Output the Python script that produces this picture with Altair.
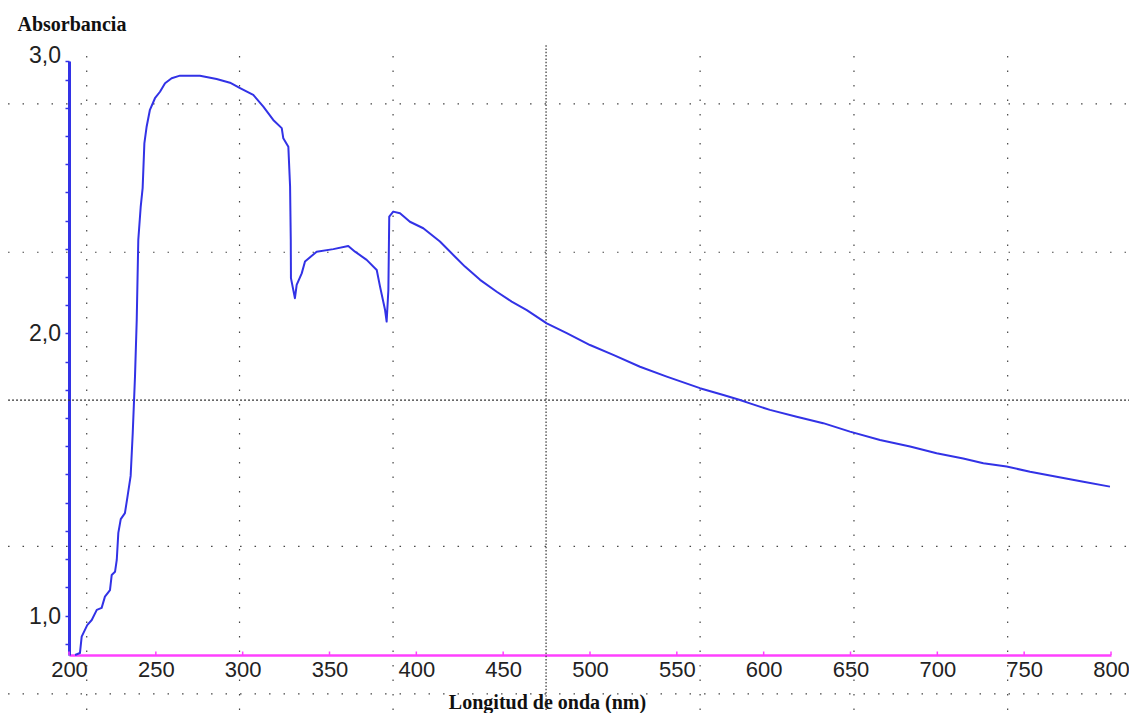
import altair as alt
import pandas as pd

# ---- data ----
wavelength = [203.5, 206.3, 207.3, 210.5, 213.1, 216.0, 218.8, 220.7, 223.6, 224.6,
              226.5, 227.5, 228.4, 229.8, 232.2, 233.6, 235.5, 236.7, 238.0, 239.0,
              239.9, 241.3, 242.4, 243.4, 244.7, 246.6, 249.5, 252.4, 255.3, 259.1,
              263.9, 275.4, 285.0, 292.7, 298.5, 306.1, 311.9, 317.6, 322.5, 323.4,
              326.3, 327.3, 327.7, 327.8, 330.1, 331.1, 334.0, 335.9, 342.6, 352.2,
              360.8, 364.7, 371.4, 377.2, 379.1, 382.0, 382.9, 383.9, 384.4, 386.7,
              390.6, 396.3, 404.0, 413.6, 422.3, 428.0, 436.7, 446.3, 454.9, 463.6,
              475.1, 486.6, 500.0, 513.4, 528.8, 544.2, 563.3, 576.8, 586.4, 592.1,
              603.6, 619.0, 634.3, 649.7, 667.0, 684.3, 699.6, 714.9, 726.5, 739.9,
              753.4, 768.7, 784.1, 799.4]
absorbance = [0.860, 0.867, 0.925, 0.966, 0.984, 1.020, 1.027, 1.067, 1.090, 1.144,
              1.155, 1.197, 1.293, 1.342, 1.363, 1.418, 1.495, 1.647, 1.847, 2.048,
              2.332, 2.450, 2.515, 2.674, 2.733, 2.793, 2.834, 2.857, 2.887, 2.905,
              2.914, 2.914, 2.902, 2.889, 2.870, 2.846, 2.804, 2.757, 2.728, 2.692,
              2.662, 2.521, 2.332, 2.196, 2.125, 2.172, 2.213, 2.255, 2.290, 2.299,
              2.310, 2.290, 2.261, 2.225, 2.166, 2.083, 2.042, 2.154, 2.414, 2.432,
              2.426, 2.396, 2.373, 2.326, 2.272, 2.237, 2.190, 2.148, 2.113, 2.083,
              2.036, 2.001, 1.959, 1.924, 1.882, 1.847, 1.806, 1.782, 1.764, 1.752,
              1.729, 1.705, 1.682, 1.652, 1.622, 1.599, 1.575, 1.557, 1.540, 1.528,
              1.510, 1.492, 1.474, 1.457]

x_ticks = [200, 250, 300, 350, 400, 450, 500, 550, 600, 650, 700, 750, 800]
y_ticks = [0.9, 1.0, 1.1, 1.2, 1.3, 1.4, 1.5, 1.6, 1.7, 1.8, 1.9, 2.0,
           2.1, 2.2, 2.3, 2.4, 2.5, 2.6, 2.7, 2.8, 2.9, 2.966]
y_labelled = [1.0, 2.0, 2.966]

x_domain = [200, 800]
y_domain = [0.86, 2.966]

# instrument grid (independent of the tick scale)
grid_x_sparse = [210.2, 298.2, 386.6, 563.4, 652.0, 740.5]
grid_x_dark = [474.7]
grid_y_sparse = [2.814, 2.288, 1.245, 0.722]
grid_y_dark = [1.764]
grid_x_extent = [164.9, 810.4]
grid_y_extent = [0.665, 3.023]

BLUE = "#3232e6"
MAGENTA = "#ff40ff"

spec = pd.DataFrame({"wl": wavelength, "abs": absorbance,
                     "idx": list(range(len(wavelength)))})

xs = alt.Scale(domain=x_domain, nice=False, zero=False)
ys = alt.Scale(domain=y_domain, nice=False, zero=False)

x_axis = alt.Axis(values=x_ticks, format="d", grid=False, ticks=False,
                  domainColor=MAGENTA, domainWidth=2.5,
                  labelFont="Liberation Sans", labelFontSize=22,
                  labelColor="#222222", labelPadding=4, labelFlush=False,
                  labelOverlap=False,
                  title="Longitud de onda (nm)", titleFont="Liberation Serif",
                  titleFontWeight="bold", titleFontSize=20, titleColor="#111111",
                  titleX=478, titleY=53, titleBaseline="alphabetic",
                  titleAlign="center")
y_axis = alt.Axis(values=y_ticks, labels=False, grid=False,
                  domainColor=BLUE, domainWidth=3,
                  tickColor=BLUE, tickSize=4, tickWidth=1.5,
                  title="Absorbancia", titleFont="Liberation Serif",
                  titleFontWeight="bold", titleFontSize=20, titleColor="#111111",
                  titleAngle=0, titleAlign="left", titleBaseline="alphabetic",
                  titleX=-52, titleY=-31)

def vgrid(vals, dash, color, width):
    df = pd.DataFrame({"x": vals, "y1": grid_y_extent[0], "y2": grid_y_extent[1]})
    return alt.Chart(df).mark_rule(strokeDash=dash, color=color, strokeWidth=width).encode(
        x=alt.X("x:Q", scale=xs, axis=x_axis), y=alt.Y("y1:Q", scale=ys, axis=y_axis), y2="y2:Q")

def hgrid(vals, dash, color, width):
    df = pd.DataFrame({"y": vals, "x1": grid_x_extent[0], "x2": grid_x_extent[1]})
    return alt.Chart(df).mark_rule(strokeDash=dash, color=color, strokeWidth=width).encode(
        y=alt.Y("y:Q", scale=ys, axis=y_axis), x=alt.X("x1:Q", scale=xs, axis=x_axis), x2="x2:Q")

grid_layers = [
    vgrid(grid_x_sparse, [1.5, 13], "#444444", 1.2),
    vgrid(grid_x_dark, [1.5, 1.8], "#333333", 1.2),
    hgrid(grid_y_sparse, [1.5, 13], "#444444", 1.2),
    hgrid(grid_y_dark, [2, 2], "#333333", 1.2),
]

xtick = alt.Chart(pd.DataFrame({"t": x_ticks})).mark_rule(
    color=MAGENTA, strokeWidth=1.5).encode(
    x=alt.X("t:Q", scale=xs, axis=x_axis), y=alt.value(594), y2=alt.value(590.5))

# y tick labels (comma decimal), drawn as text beside the axis
ylab_df = pd.DataFrame({"v": y_labelled,
                        "txt": [f"{v:.1f}".replace(".", ",") for v in y_labelled]})

def ylabel_layer(test, dy):
    return alt.Chart(ylab_df).transform_filter(test).mark_text(
        align="right", baseline="middle", font="Liberation Sans", fontSize=23,
        color="#222222", dx=-8, dy=dy).encode(
        x=alt.value(0),
        y=alt.Y("v:Q", scale=ys, axis=y_axis),
        text="txt:N")

ylabels = [ylabel_layer("datum.v < 2.95", 1), ylabel_layer("datum.v > 2.95", -5)]

line = alt.Chart(spec).mark_line(color=BLUE, strokeWidth=2, strokeJoin="round").encode(
    x=alt.X("wl:Q", scale=xs, axis=x_axis),
    y=alt.Y("abs:Q", scale=ys, axis=y_axis),
    order="idx:Q",
)

chart = alt.layer(*grid_layers, xtick, *ylabels, line).properties(
    width=1042, height=594,
    background="white",
    autosize=alt.AutoSizeParams(type="none"),
    padding={"left": 61, "top": 53, "right": 18, "bottom": 58},
).configure_view(strokeWidth=0)

chart.save("out.html", embed_options={"renderer": "svg", "actions": False})
